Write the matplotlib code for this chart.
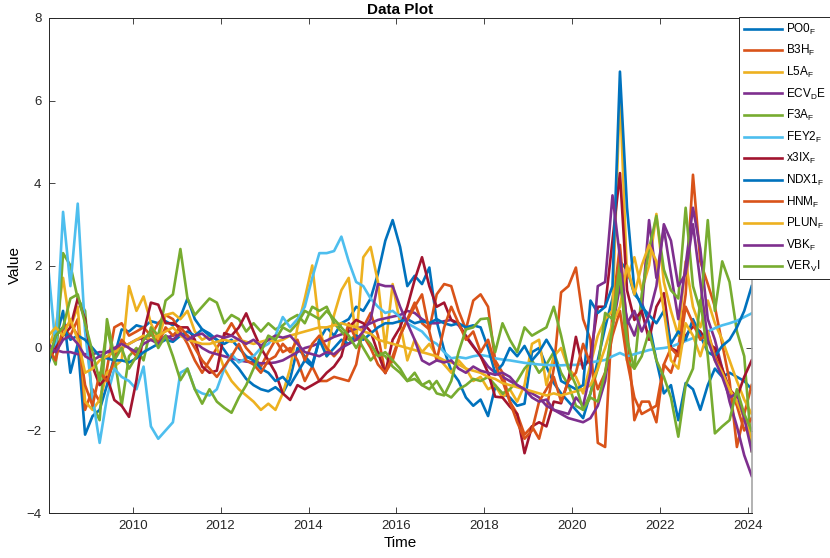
import matplotlib
matplotlib.use("Agg")
import matplotlib.pyplot as plt
import pandas as pd

plt.rcParams['font.family'] = ['Liberation Sans', 'DejaVu Sans']
plt.rcParams['mathtext.fontset'] = 'custom'
plt.rcParams['mathtext.rm'] = 'Liberation Sans'

dates = pd.date_range('2008-02-01', '2024-02-01', freq='2MS')

names = [r'$\mathregular{PO0_F}$', r'$\mathregular{B3H_F}$', r'$\mathregular{L5A_F}$',
         r'$\mathregular{ECV_DE}$', r'$\mathregular{F3A_F}$', r'$\mathregular{FEY2_F}$',
         r'$\mathregular{x3IX_F}$', r'$\mathregular{NDX1_F}$', r'$\mathregular{HNM_F}$',
         r'$\mathregular{PLUN_F}$', r'$\mathregular{VBK_F}$', r'$\mathregular{VER_VI}$']

PO0 = [-0.35, 0.2, 0.9, -0.6, 0.1, -2.1, -1.65, -1.5, -0.9, -0.2,
       0.45, 0.4, 0.55, 0.5, 0.65, 0.6, 0.65, 0.55, 0.75, 1.2,
       0.7, 0.45, 0.35, 0.2, -0.05, -0.3, -0.5, -0.75, -0.9, -1.0,
       -1.05, -0.95, -1.1, -0.75, 0.0, -0.2, -0.4, 0.2, 0.5, 0.3,
       0.6, 0.7, 1.0, 0.9, 1.2, 1.8, 2.6, 3.1, 2.45, 1.5,
       1.75, 1.55, 1.95, 0.65, -0.05, -0.55, -0.8, -1.2, -1.4, -1.25,
       -1.65, -0.95, -1.1, -1.2, -1.4, -1.35, -0.1, 0.0, -0.45, -0.85,
       -1.1, -1.3, -1.5, -1.7, -1.1, -0.3, 0.5, 1.2, 2.1, 1.9,
       1.3, 1.1, 0.6, -0.3, -1.1, -0.9, -1.75, -0.85, -1.0, -1.5,
       -0.9, -0.5, -0.7, -0.6, -0.7, -0.8, -1.0]

B3H = [0.1, 0.3, 0.5, 0.3, 0.7, -1.5, -1.0, -1.3, -0.5, 0.5,
       0.6, 0.3, 0.4, 0.5, 0.3, 0.6, 0.8, 0.7, 0.4, 0.1,
       -0.3, -0.6, -0.3, 0.0, 0.3, 0.6, 0.3, 0.0, -0.2, -0.45,
       -0.1, 0.2, -0.1, 0.0, -0.3, -0.8, -0.45, -0.8, -0.8, -0.7,
       -0.75, -0.8, -0.4, 0.5, 0.85, 0.3, -0.6, -0.3, 0.3, 0.7,
       1.1, 0.6, 0.45, 1.3, 1.55, 1.5, 0.9, 0.45, 1.15, 1.3,
       1.0, -0.3, -0.6, -1.3, -1.6, -2.1, -1.9, -2.2, -1.5, -0.5,
       1.35, 1.5, 1.95, 0.7, 0.2, -2.3, -2.4, 0.9, 2.5, 0.5,
       -1.75, -1.3, -1.3, -1.8, -0.4, -0.6, 0.0, 1.3, 4.2, 2.1,
       1.55, 1.0, 0.1, -0.8, -2.4, -1.6, -0.9]

L5A = [0.0, 0.5, 1.7, 0.5, 1.0, -1.3, -1.5, -1.26, -0.6, -0.45,
       -0.3, 1.5, 0.9, 1.25, 0.6, 0.2, 0.8, 0.85, 0.7, 0.9,
       0.4, 0.2, 0.3, 0.0, -0.5, -0.8, -1.0, -1.15, -1.3, -1.5,
       -1.35, -1.5, -1.1, -0.5, 0.5, 1.2, 2.0, 0.5, -0.2, 0.8,
       1.4, 1.7, 0.2, 2.2, 2.45, 1.6, 0.0, 1.55, 0.6, -0.3,
       0.2, -0.1, 0.1, -0.2, -0.4, -0.6, -0.3, -0.5, -0.8, -0.7,
       -1.0, -0.9, -1.2, -1.0, -1.3, -0.9, 0.1, 0.2, -0.9, -0.2,
       0.0, -0.5, -0.7, -1.1, -0.4, 0.3, 0.7, 0.9, 6.2, 1.7,
       2.2, 1.4, 2.0, 3.25, 1.6, 0.9, 0.3, 2.1, 1.0, 0.5,
       1.15, 0.6, 0.2, -0.3, -0.8, -1.25, -1.6]

ECV = [-0.05, -0.05, -0.1, -0.1, -0.15, -0.15, -0.15, -0.1, -0.1, -0.05,
       0.0, 0.1, 0.2, 0.25, 0.2, 0.15, 0.25, 0.3, 0.35, 0.3,
       0.15, 0.0, -0.1, -0.15, -0.2, -0.25, -0.3, -0.33, -0.35, -0.37,
       -0.37, -0.35, -0.3, -0.2, -0.1, 0.0, 0.05, 0.12, 0.18, 0.27,
       0.33, 0.4, 0.47, 0.52, 0.6, 0.68, 0.72, 0.76, 0.8, 0.9,
       0.85, 0.7, 0.6, 0.6, 0.65, 0.68, 0.55, 0.3, 0.05, -0.2,
       -0.45, -0.6, -0.7, -0.8, -0.9, -1.0, -1.1, -1.2, -1.4, -1.5,
       -1.6, -1.7, -1.75, -1.8, -1.7, -1.4, -0.8, 0.5, 1.5, 0.7,
       0.3, 0.9, 3.1, 1.7, 2.9, 1.8, 0.7, 2.0, 3.4, 2.4,
       0.7, 0.2, -0.5, -1.3, -1.9, -2.6, -3.1]

F3A = [0.0, -0.4, 2.3, 2.0, 1.2, 0.9, -1.4, -1.75, 0.7, -0.2,
       -1.4, -0.2, 0.0, -0.3, 0.5, 0.3, 1.15, 1.3, 2.4, 1.2,
       0.8, 1.0, 1.2, 1.1, 0.6, 0.8, 0.7, 0.4, 0.6, 0.4,
       0.6, 0.45, 0.55, 0.7, 0.8, 0.6, 1.0, 0.9, 1.0, 0.6,
       0.4, 0.2, 0.3, 0.0, -0.3, -0.1, -0.2, -0.45, -0.6, -0.8,
       -0.75, -0.9, -1.0, -0.8, -1.1, -1.2, -1.0, -0.9, -0.75, -0.8,
       -0.7, -0.9, -1.1, -1.0, -0.8, -0.5, -0.3, -0.6, -0.4, -0.1,
       -0.6, -0.9, -1.4, -1.5, -1.1, -0.5, 0.85, 0.7, 2.05, -0.3,
       -0.5, 1.3, 2.4, 3.2, 1.9, 1.4, 1.2, 3.4, 1.5, 0.9,
       3.1, 0.9, 2.1, 1.6, 0.4, -0.2, -2.5]

FEY2 = [1.9, 0.0, 3.3, 1.5, 3.5, 0.4, -1.2, -2.3, -1.2, -0.5,
        -0.7, -0.8, -1.0, -0.45, -1.9, -2.2, -2.0, -1.8, -0.6, -0.5,
        -1.0, -1.1, -1.15, -1.0, -0.5, -0.15, -0.35, -0.25, -0.2, 0.0,
        0.1, 0.3, 0.75, 0.5, 0.7, 1.0, 1.7, 2.3, 2.3, 2.35,
        2.7, 2.1, 1.6, 1.5, 1.2, 1.0, 0.85, 0.9, 0.75, 0.6,
        0.5, 0.4, 0.2, 0.1, -0.1, -0.25, -0.22, -0.25, -0.2, -0.17,
        -0.2, -0.25, -0.28, -0.3, -0.33, -0.36, -0.38, -0.4, -0.41, -0.42,
        -0.42, -0.41, -0.41, -0.38, -0.35, -0.32, -0.29, -0.2, -0.12, -0.2,
        -0.15, -0.1, -0.05, -0.02, 0.0, 0.03, 0.1, 0.17, 0.24, 0.3,
        0.4, 0.48, 0.55, 0.6, 0.66, 0.75, 0.84]

X3IX = [-0.3, 0.0, 0.3, 0.5, 1.2, 0.7, -0.45, -0.9, -0.7, -1.26,
        -1.4, -1.67, -0.78, 0.36, 1.1, 1.05, 0.6, 0.6, 0.5, 0.5,
        0.2, -0.45, -0.6, -0.55, 0.36, 0.3, 0.5, 0.84, 0.4, 0.0,
        -0.3, -0.6, -1.1, -1.26, -0.9, -1.0, -0.9, -0.8, -0.6, -0.45,
        -0.2, 0.5, 0.68, 0.6, 0.4, -0.12, -0.61, 0.2, 0.5, 1.0,
        1.65, 2.2, 1.5, 1.0, 1.1, 0.68, 0.6, 0.27, 0.03, -0.2,
        -0.6, -1.18, -1.2, -1.42, -1.6, -2.55, -1.9, -1.8, -1.9, -1.3,
        -1.34, -0.78, 0.27, -0.5, -0.2, 1.0, 1.0, 2.6, 4.24, 1.4,
        0.68, 0.9, 0.2, 1.0, 1.33, 0.0, -0.1, 0.3, 0.52, 0.4,
        0.12, 0.0, -0.5, -1.0, -1.2, -0.7, -0.3]

NDX1 = [-0.4, 0.3, 0.5, 0.2, 0.3, 0.2, 0.0, -0.2, -0.25, -0.3,
        -0.3, -0.35, -0.25, -0.1, 0.0, 0.1, 0.2, 0.15, 0.3, 0.4,
        0.3, 0.45, 0.3, 0.2, 0.1, 0.2, 0.0, -0.2, -0.3, -0.5,
        -0.6, -0.8, -0.7, -0.9, -0.6, -0.3, -0.45, 0.2, -0.2, 0.0,
        0.2, 0.1, 0.3, 0.2, 0.35, 0.5, 0.6, 0.6, 0.65, 0.7,
        0.6, 0.65, 0.6, 0.7, 0.6, 0.55, 0.6, 0.5, 0.55, 0.5,
        0.0, -0.6, -0.4, 0.0, -0.2, 0.05, -0.3, -0.1, 0.2, -0.1,
        -0.8, -0.9, -1.0, -0.9, 1.15, 0.85, 1.0, 1.5, 6.7, 3.4,
        1.4, 1.0, 0.8, 0.6, 0.9, 0.1, 0.4, 0.2, 0.7, 0.3,
        -0.1, -0.2, 0.05, 0.2, 0.5, 0.9, 1.5]

HNM = [0.0, -0.3, 0.5, 0.6, 0.3, -0.9, -1.4, -0.6, -0.8, -0.3,
       0.2, 0.0, -0.2, 0.2, 0.4, 0.1, 0.5, 0.3, 0.5, 0.3,
       0.0, -0.3, -0.5, -0.7, -0.45, -0.2, 0.1, -0.3, -0.4, -0.6,
       -0.3, -0.2, 0.1, -0.1, 0.2, -0.3, 0.1, 0.3, 0.0, -0.2,
       0.0, 0.6, 0.2, 0.3, 0.0, -0.4, -0.6, -0.2, 0.3, 0.68,
       1.0, 1.3, 0.4, -0.3, 0.5, 1.0, 0.6, 0.2, 0.4, -0.1,
       0.2, -0.4, -0.8, -1.3, -1.8, -2.2, -2.0, -1.3, -1.0, -0.7,
       -1.3, -0.8, -0.6, 0.1, -0.4, -1.0, -0.6, 0.3, 0.9, -0.3,
       -1.2, -1.6, -1.5, -1.4, -0.4, 0.0, -0.2, 1.0, 0.6, 0.2,
       0.4, -0.2, -0.6, -1.0, -1.4, -2.0, -1.7]

PLUN = [0.3, 0.5, 0.3, 0.7, 0.2, -0.6, -0.5, -0.3, -0.2, -0.1,
        0.0, 0.1, 0.2, 0.3, 0.2, 0.3, 0.4, 0.5, 0.3, 0.2,
        0.15, 0.1, 0.1, 0.15, 0.2, 0.15, 0.2, 0.15, 0.1, 0.15,
        0.2, 0.15, 0.2, 0.3, 0.35, 0.4, 0.45, 0.5, 0.5, 0.55,
        0.6, 0.55, 0.5, 0.4, 0.35, 0.2, 0.15, 0.1, 0.05, 0.0,
        -0.05, -0.1, -0.15, -0.2, -0.3, -0.35, -0.4, -0.5, -0.55, -0.6,
        -0.7, -0.75, -0.85, -0.9, -0.95, -1.0, -1.05, -1.1, -1.15, -1.1,
        -1.15, -1.1, -1.05, -1.0, -0.9, -0.5, 0.0, 0.6, 1.0, 2.0,
        1.3, 2.0, 2.5, 2.1, 0.9, -0.3, -0.5, 0.6, 0.3, -0.2,
        0.4, -0.3, -0.6, -1.0, -1.3, -1.7, -2.2]

VBK = [0.1, -0.1, 0.2, 0.3, 0.1, -0.2, -0.3, -0.2, -0.1, 0.0,
       0.1, 0.0, -0.1, 0.1, 0.2, 0.1, 0.3, 0.2, 0.35, 0.2,
       0.3, 0.35, 0.2, 0.3, 0.25, 0.3, 0.2, 0.1, 0.2, 0.05,
       0.2, 0.3, 0.25, 0.3, 0.1, -0.1, -0.15, -0.2, -0.1, -0.15,
       0.0, 0.1, 0.2, 0.4, 0.7, 1.55, 1.5, 1.5, 1.0, 0.6,
       0.2, -0.3, -0.4, -0.3, -0.35, -0.3, -0.5, -0.6, -0.45, -0.55,
       -0.6, -0.65, -0.6, -0.7, -0.9, -1.0, -1.2, -1.3, -1.25, -1.5,
       -1.55, -1.6, -1.2, -1.4, -0.6, 1.5, 1.6, 3.7, 2.2, 0.6,
       0.9, 0.4, 0.8, 1.5, 3.0, 2.6, 1.5, 1.8, 3.0, 1.6,
       0.2, -0.3, -0.7, -1.2, -1.1, -1.7, -2.5]

VER = [-0.3, 0.3, 0.5, 1.2, 1.3, 0.6, -0.1, -0.8, 0.5, -0.3,
       0.0, -0.5, -0.2, 0.2, 0.4, 0.0, 0.3, -0.2, -0.78, -0.5,
       -1.0, -1.35, -1.0, -1.3, -1.45, -1.57, -1.2, -0.9, -0.5, -0.1,
       0.3, 0.2, 0.5, 0.4, 0.6, 0.9, 0.8, 0.7, 0.9, 0.7,
       0.5, 0.3, 0.0, 0.3, 0.1, -0.2, -0.1, -0.3, -0.5, -0.8,
       -0.6, -0.9, -0.8, -1.1, -1.15, -0.8, -0.1, 0.45, 0.5, 0.7,
       0.72, -0.1, 0.6, 0.2, -0.1, 0.5, 0.3, 0.4, 0.5, 1.0,
       0.3, -0.5, -0.9, -1.5, -1.2, -1.3, -0.6, 0.5, 1.8, 0.2,
       -0.5, -0.2, 0.4, -0.3, -0.7, -1.2, -2.15, -0.9, -0.5, 1.16,
       -0.2, -2.07, -1.9, -1.75, -1.0, -1.6, -2.0]

series = [PO0, B3H, L5A, ECV, F3A, FEY2, X3IX, NDX1, HNM, PLUN, VBK, VER]
colors = ['#0072BD', '#D95319', '#EDB120', '#7E2F8E', '#77AC30', '#4DBEEE',
          '#A2142F', '#0072BD', '#D95319', '#EDB120', '#7E2F8E', '#77AC30']

x_ticks = [str(y) for y in range(2010, 2025, 2)]
y_ticks = [-4, -2, 0, 2, 4, 6, 8]

fig = plt.figure(figsize=(8.3, 5.58), dpi=100)
ax = fig.add_axes([48.5 / 830, 1 - 513 / 558, (751.7 - 48.5) / 830, (513 - 18) / 558])

handles = []
for vals, c, nm in zip(series, colors, names):
    h, = ax.plot(dates, vals, color=c, lw=1.9, label=nm)
    handles.append(h)

ax.set_xlim(dates[0], dates[-1])
ax.set_ylim(-4, 8)
ax.set_yticks(y_ticks)
ax.set_xticks([pd.Timestamp(f'{y}-01-01') for y in x_ticks])
ax.set_xticklabels(x_ticks)

ax.tick_params(direction='in', top=True, right=True, length=4, width=0.6,
               labelsize=9.5, colors='#262626', pad=5)
for side in ['left', 'bottom', 'top']:
    ax.spines[side].set_color('#262626')
    ax.spines[side].set_linewidth(0.7)
ax.spines['right'].set_color('#a6a6a6')
ax.spines['right'].set_linewidth(1.2)

ax.set_title('Data Plot', fontsize=11, fontweight='bold', pad=3)
ax.set_xlabel('Time', fontsize=11, labelpad=3)
ax.set_ylabel('Value', fontsize=11, labelpad=3)

leg = fig.legend(handles=handles, loc='upper left',
                 bbox_to_anchor=(739 / 830, 1 - 17 / 558),
                 bbox_transform=fig.transFigure,
                 fontsize=8.5, frameon=True, fancybox=False, framealpha=1,
                 edgecolor='#262626', borderaxespad=0, handlelength=3.2,
                 handletextpad=0.35, labelspacing=0.55, borderpad=0.4)
leg.get_frame().set_linewidth(0.7)

fig.savefig('out.png', dpi=100, facecolor='white')
